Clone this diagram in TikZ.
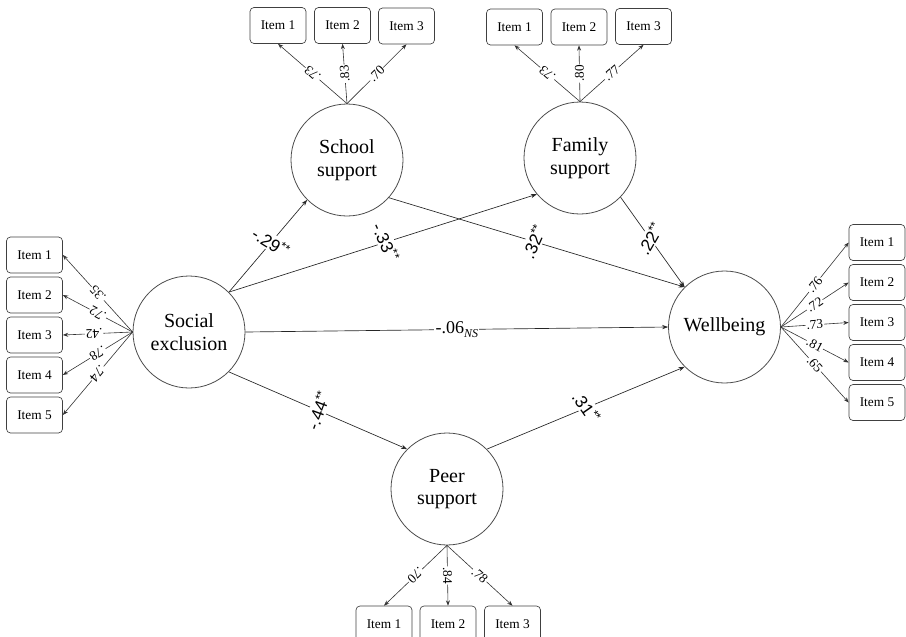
\documentclass[tikz,border=0pt]{standalone}
\usepackage{fontspec}
\setmainfont{Liberation Serif}
\newfontfamily\labsans{Liberation Sans}
\usetikzlibrary{arrows.meta}
\begin{document}
\begin{tikzpicture}[x=0.75pt,y=-0.75pt,
 latent/.style={circle,draw=black!70,line width=0.6pt,minimum size=84pt,inner sep=0pt,align=center,font=\fontsize{15}{17}\selectfont},
 item/.style={draw=black!75,rounded corners=3pt,minimum width=42pt,minimum height=27pt,inner sep=0pt,font=\fontsize{10}{12}\selectfont,line width=0.5pt},
 ld/.style={draw=black!80,line width=0.45pt,-{Stealth[length=4pt,width=3pt]}},
 pth/.style={draw=black!85,line width=0.5pt,-{Stealth[length=4.5pt,width=3.2pt]}},
 lw/.style={fill=white,inner sep=0.6pt,font=\fontsize{10}{10}\selectfont,sloped,allow upside down},
 pl/.style={fill=white,inner sep=1pt,font=\labsans\fontsize{13}{13}\selectfont}]

\useasboundingbox (0,0) rectangle (906,636);

% latent variables
\node[latent] (se) at (189,332) {Social\\exclusion};
\node[latent] (sc) at (347,160) {School\\support};
\node[latent] (fa) at (580,158) {Family\\support};
\node[latent] (wb) at (724.5,327) {Wellbeing};
\node[latent] (pe) at (447,489) {Peer\\support};

% indicators
\foreach \i/\y in {1/255,2/295,3/335,4/375,5/415} \node[item] (l\i) at (34.5,\y) {Item \i};
\foreach \i/\y in {1/242.5,2/282.5,3/322.5,4/362.5,5/402.5} \node[item] (r\i) at (877,\y) {Item \i};
\node[item] (s1) at (278,25.5) {Item 1};
\node[item] (s2) at (342.5,25.5) {Item 2};
\node[item] (s3) at (406.5,26) {Item 3};
\node[item] (f1) at (514.5,27) {Item 1};
\node[item] (f2) at (579,27) {Item 2};
\node[item] (f3) at (643.5,26.5) {Item 3};
\node[item] (p1) at (384,624) {Item 1};
\node[item] (p2) at (448,624) {Item 2};
\node[item] (p3) at (512.5,624) {Item 3};

% loadings
\draw[ld] (se.west) -- node[lw]{.35} (l1.east);
\draw[ld] (se.west) -- node[lw]{.72} (l2.east);
\draw[ld] (se.west) -- node[lw,pos=0.55]{.42} (l3.east);
\draw[ld] (se.west) -- node[lw]{.78} (l4.east);
\draw[ld] (se.west) -- node[lw]{.74} (l5.east);

\draw[ld] (wb.east) -- node[lw]{.76} (r1.west);
\draw[ld] (wb.east) -- node[lw]{.72} (r2.west);
\draw[ld] (wb.east) -- node[lw]{.73} (r3.west);
\draw[ld] (wb.east) -- node[lw]{.81} (r4.west);
\draw[ld] (wb.east) -- node[lw]{.65} (r5.west);

\draw[ld] (sc.north) -- node[lw]{.73} (s1.south);
\draw[ld] (sc.north) -- node[lw]{.83} (s2.south);
\draw[ld] (sc.north) -- node[lw]{.70} (s3.south);

\draw[ld] (fa.north) -- node[lw]{.73} (f1.south);
\draw[ld] (fa.north) -- node[lw]{.80} (f2.south);
\draw[ld] (fa.north) -- node[lw]{.77} (f3.south);

\draw[ld] (pe.south) -- node[lw]{.70} (p1.north);
\draw[ld] (pe.south) -- node[lw]{.84} (p2.north);
\draw[ld] (pe.south) -- node[lw]{.78} (p3.north);

% structural paths
\draw[pth] (se.45) -- node[pl,pos=0.54,rotate=-32]{-.29\textsuperscript{**}} (sc.225);
\draw[pth] (se.45) -- node[pl,pos=0.51,rotate=-66]{-.33\textsuperscript{**}} (fa.220);
\draw[pth] (sc.-42) -- node[pl,pos=0.49,rotate=66]{.32\textsuperscript{**}} (wb.135);
\draw[pth] (fa.-44) -- node[pl,pos=0.46,rotate=60]{.22\textsuperscript{**}} (wb.135);
\draw[pth] (se.east) -- node[fill=white,inner sep=1pt,pos=0.5,font=\fontsize{13.5}{13.5}\selectfont]{-.06\raisebox{-0.45ex}{\fontsize{9}{9}\selectfont\itshape NS}} (wb.west);
\draw[pth] (se.-45) -- node[pl,pos=0.5,rotate=70]{-.44\textsuperscript{**}} (pe.135);
\draw[pth] (pe.45) -- node[pl,pos=0.505,rotate=-55]{.31\textsuperscript{**}} (wb.225);

\end{tikzpicture}
\end{document}
